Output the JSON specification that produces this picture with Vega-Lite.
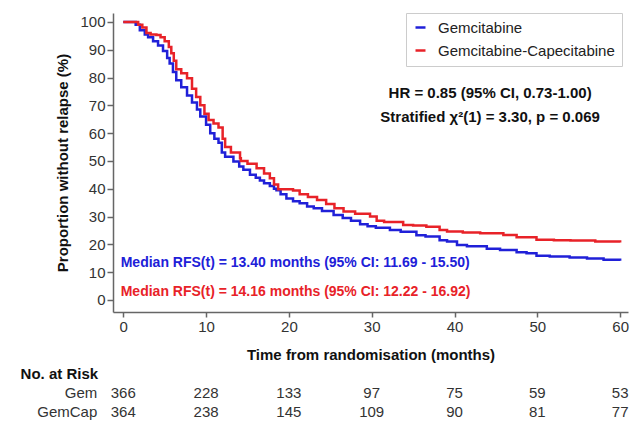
{
  "$schema": "https://vega.github.io/schema/vega-lite/v6.json",
  "width": 515,
  "height": 299,
  "autosize": {"type": "none"},
  "padding": {"left": 113, "top": 13, "right": 12, "bottom": 115},
  "background": "white",
  "config": {
    "view": {"stroke": null},
    "font": "Liberation Sans",
    "axis": {"grid": false, "domainColor": "#666666", "domainWidth": 1.5, "tickColor": "#666666", "tickWidth": 1.5, "tickSize": 6, "labelFontSize": 15, "labelColor": "#333333", "labelFont": "Liberation Sans", "titleFont": "Liberation Sans", "titleFontSize": 15, "titleFontWeight": "bold", "titleColor": "#111111"}
  },
  "resolve": {"axis": {"x": "independent", "y": "independent"}},
  "datasets": {
    "curves": [
      {"t": 0, "v": 100, "arm": "Gemcitabine"}, {"t": 1.0, "v": 100, "arm": "Gemcitabine"}, {"t": 1.5, "v": 99, "arm": "Gemcitabine"}, {"t": 2.0, "v": 97, "arm": "Gemcitabine"}, {"t": 2.6, "v": 95.5, "arm": "Gemcitabine"}, {"t": 3.0, "v": 94.5, "arm": "Gemcitabine"}, {"t": 3.6, "v": 93, "arm": "Gemcitabine"}, {"t": 4.2, "v": 91.5, "arm": "Gemcitabine"}, {"t": 4.8, "v": 89.5, "arm": "Gemcitabine"}, {"t": 5.3, "v": 87, "arm": "Gemcitabine"}, {"t": 5.6, "v": 85, "arm": "Gemcitabine"}, {"t": 6.0, "v": 82, "arm": "Gemcitabine"}, {"t": 6.4, "v": 79, "arm": "Gemcitabine"}, {"t": 7.0, "v": 76.5, "arm": "Gemcitabine"}, {"t": 7.7, "v": 73.5, "arm": "Gemcitabine"}, {"t": 8.3, "v": 71, "arm": "Gemcitabine"}, {"t": 8.9, "v": 68.5, "arm": "Gemcitabine"}, {"t": 9.3, "v": 66, "arm": "Gemcitabine"}, {"t": 10.0, "v": 63, "arm": "Gemcitabine"}, {"t": 10.5, "v": 60, "arm": "Gemcitabine"}, {"t": 11.0, "v": 58, "arm": "Gemcitabine"}, {"t": 11.5, "v": 56.5, "arm": "Gemcitabine"}, {"t": 11.9, "v": 53, "arm": "Gemcitabine"}, {"t": 12.3, "v": 51.5, "arm": "Gemcitabine"}, {"t": 13.3, "v": 49.8, "arm": "Gemcitabine"}, {"t": 14.0, "v": 48, "arm": "Gemcitabine"}, {"t": 14.5, "v": 46.8, "arm": "Gemcitabine"}, {"t": 15.3, "v": 45, "arm": "Gemcitabine"}, {"t": 16.0, "v": 44, "arm": "Gemcitabine"}, {"t": 16.5, "v": 43, "arm": "Gemcitabine"}, {"t": 17.0, "v": 42, "arm": "Gemcitabine"}, {"t": 17.7, "v": 41, "arm": "Gemcitabine"}, {"t": 18.2, "v": 40, "arm": "Gemcitabine"}, {"t": 18.5, "v": 39.5, "arm": "Gemcitabine"}, {"t": 19.0, "v": 38, "arm": "Gemcitabine"}, {"t": 19.7, "v": 36.5, "arm": "Gemcitabine"}, {"t": 20.5, "v": 35.5, "arm": "Gemcitabine"}, {"t": 21.3, "v": 34.8, "arm": "Gemcitabine"}, {"t": 22.2, "v": 33.6, "arm": "Gemcitabine"}, {"t": 23.0, "v": 33, "arm": "Gemcitabine"}, {"t": 24.0, "v": 32, "arm": "Gemcitabine"}, {"t": 25.4, "v": 30.6, "arm": "Gemcitabine"}, {"t": 26.5, "v": 29.5, "arm": "Gemcitabine"}, {"t": 27.5, "v": 28.5, "arm": "Gemcitabine"}, {"t": 28.6, "v": 27.2, "arm": "Gemcitabine"}, {"t": 29.5, "v": 26.5, "arm": "Gemcitabine"}, {"t": 30.5, "v": 26, "arm": "Gemcitabine"}, {"t": 32.2, "v": 25.2, "arm": "Gemcitabine"}, {"t": 33.5, "v": 24.5, "arm": "Gemcitabine"}, {"t": 35.4, "v": 23.3, "arm": "Gemcitabine"}, {"t": 36.5, "v": 22.8, "arm": "Gemcitabine"}, {"t": 38.2, "v": 21.5, "arm": "Gemcitabine"}, {"t": 39.1, "v": 21, "arm": "Gemcitabine"}, {"t": 40.3, "v": 19.8, "arm": "Gemcitabine"}, {"t": 41.5, "v": 19.3, "arm": "Gemcitabine"}, {"t": 43.9, "v": 18.4, "arm": "Gemcitabine"}, {"t": 45.5, "v": 18, "arm": "Gemcitabine"}, {"t": 47.5, "v": 17.2, "arm": "Gemcitabine"}, {"t": 48.7, "v": 16.8, "arm": "Gemcitabine"}, {"t": 49.9, "v": 15.9, "arm": "Gemcitabine"}, {"t": 51.5, "v": 15.6, "arm": "Gemcitabine"}, {"t": 53.9, "v": 15.3, "arm": "Gemcitabine"}, {"t": 56, "v": 14.9, "arm": "Gemcitabine"}, {"t": 58, "v": 14.5, "arm": "Gemcitabine"}, {"t": 60, "v": 14.1, "arm": "Gemcitabine"},
      {"t": 0, "v": 100, "arm": "Gemcitabine-Capecitabine"}, {"t": 1.2, "v": 100, "arm": "Gemcitabine-Capecitabine"}, {"t": 1.8, "v": 99, "arm": "Gemcitabine-Capecitabine"}, {"t": 2.3, "v": 98, "arm": "Gemcitabine-Capecitabine"}, {"t": 2.8, "v": 96, "arm": "Gemcitabine-Capecitabine"}, {"t": 3.3, "v": 95.5, "arm": "Gemcitabine-Capecitabine"}, {"t": 4.0, "v": 95.3, "arm": "Gemcitabine-Capecitabine"}, {"t": 4.5, "v": 94.5, "arm": "Gemcitabine-Capecitabine"}, {"t": 5.0, "v": 93, "arm": "Gemcitabine-Capecitabine"}, {"t": 5.5, "v": 91, "arm": "Gemcitabine-Capecitabine"}, {"t": 5.8, "v": 88.7, "arm": "Gemcitabine-Capecitabine"}, {"t": 6.1, "v": 86, "arm": "Gemcitabine-Capecitabine"}, {"t": 6.4, "v": 83, "arm": "Gemcitabine-Capecitabine"}, {"t": 7.0, "v": 81.5, "arm": "Gemcitabine-Capecitabine"}, {"t": 7.7, "v": 79.7, "arm": "Gemcitabine-Capecitabine"}, {"t": 8.3, "v": 76, "arm": "Gemcitabine-Capecitabine"}, {"t": 8.8, "v": 73, "arm": "Gemcitabine-Capecitabine"}, {"t": 9.3, "v": 70, "arm": "Gemcitabine-Capecitabine"}, {"t": 9.8, "v": 67, "arm": "Gemcitabine-Capecitabine"}, {"t": 10.3, "v": 64.7, "arm": "Gemcitabine-Capecitabine"}, {"t": 10.9, "v": 63.5, "arm": "Gemcitabine-Capecitabine"}, {"t": 11.5, "v": 62, "arm": "Gemcitabine-Capecitabine"}, {"t": 12.0, "v": 58, "arm": "Gemcitabine-Capecitabine"}, {"t": 12.3, "v": 55, "arm": "Gemcitabine-Capecitabine"}, {"t": 13.0, "v": 53, "arm": "Gemcitabine-Capecitabine"}, {"t": 14.1, "v": 51, "arm": "Gemcitabine-Capecitabine"}, {"t": 14.2, "v": 50, "arm": "Gemcitabine-Capecitabine"}, {"t": 15.0, "v": 49, "arm": "Gemcitabine-Capecitabine"}, {"t": 16.1, "v": 47.4, "arm": "Gemcitabine-Capecitabine"}, {"t": 17.0, "v": 45.5, "arm": "Gemcitabine-Capecitabine"}, {"t": 17.7, "v": 43.8, "arm": "Gemcitabine-Capecitabine"}, {"t": 18.2, "v": 41.5, "arm": "Gemcitabine-Capecitabine"}, {"t": 18.7, "v": 39.8, "arm": "Gemcitabine-Capecitabine"}, {"t": 20.5, "v": 39.4, "arm": "Gemcitabine-Capecitabine"}, {"t": 21.3, "v": 38, "arm": "Gemcitabine-Capecitabine"}, {"t": 22.3, "v": 37, "arm": "Gemcitabine-Capecitabine"}, {"t": 23.4, "v": 36, "arm": "Gemcitabine-Capecitabine"}, {"t": 24.5, "v": 34.5, "arm": "Gemcitabine-Capecitabine"}, {"t": 25.5, "v": 33, "arm": "Gemcitabine-Capecitabine"}, {"t": 26.6, "v": 31.8, "arm": "Gemcitabine-Capecitabine"}, {"t": 28.0, "v": 31, "arm": "Gemcitabine-Capecitabine"}, {"t": 29.8, "v": 30, "arm": "Gemcitabine-Capecitabine"}, {"t": 30.6, "v": 28.5, "arm": "Gemcitabine-Capecitabine"}, {"t": 31.5, "v": 28, "arm": "Gemcitabine-Capecitabine"}, {"t": 33.8, "v": 27, "arm": "Gemcitabine-Capecitabine"}, {"t": 35.0, "v": 26.8, "arm": "Gemcitabine-Capecitabine"}, {"t": 36.6, "v": 26.3, "arm": "Gemcitabine-Capecitabine"}, {"t": 38.2, "v": 25.2, "arm": "Gemcitabine-Capecitabine"}, {"t": 39.1, "v": 24.6, "arm": "Gemcitabine-Capecitabine"}, {"t": 41.0, "v": 24.3, "arm": "Gemcitabine-Capecitabine"}, {"t": 43.1, "v": 24, "arm": "Gemcitabine-Capecitabine"}, {"t": 45.9, "v": 23.4, "arm": "Gemcitabine-Capecitabine"}, {"t": 47.5, "v": 22.6, "arm": "Gemcitabine-Capecitabine"}, {"t": 49.9, "v": 21.7, "arm": "Gemcitabine-Capecitabine"}, {"t": 52, "v": 21.5, "arm": "Gemcitabine-Capecitabine"}, {"t": 54, "v": 21.4, "arm": "Gemcitabine-Capecitabine"}, {"t": 57, "v": 21, "arm": "Gemcitabine-Capecitabine"}, {"t": 60, "v": 20.7, "arm": "Gemcitabine-Capecitabine"}
    ],
    "risk": [
      {"t": 0, "gem": 366, "gemcap": 364}, {"t": 10, "gem": 228, "gemcap": 238}, {"t": 20, "gem": 133, "gemcap": 145}, {"t": 30, "gem": 97, "gemcap": 109}, {"t": 40, "gem": 75, "gemcap": 90}, {"t": 50, "gem": 59, "gemcap": 81}, {"t": 60, "gem": 53, "gemcap": 77}
    ]
  },
  "layer": [
    {
      "data": {"name": "curves"},
      "mark": {"type": "line", "interpolate": "step-after", "strokeWidth": 2.5},
      "encoding": {
        "x": {"field": "t", "type": "quantitative", "scale": {"domain": [-1.24, 60.95], "nice": false, "zero": false}, "axis": {"values": [0, 10, 20, 30, 40, 50, 60], "title": "Time from randomisation (months)", "tickSize": 5, "labelPadding": 2, "titlePadding": 13}},
        "y": {"field": "v", "type": "quantitative", "scale": {"domain": [-4.32, 103.2], "nice": false, "zero": false}, "axis": {"values": [0, 10, 20, 30, 40, 50, 60, 70, 80, 90, 100], "title": "Proportion without relapse (%)", "labelPadding": 2, "titlePadding": 9}},
        "color": {"field": "arm", "type": "nominal", "scale": {"domain": ["Gemcitabine", "Gemcitabine-Capecitabine"], "range": ["#2020d8", "#e82228"]},
          "legend": {"title": null, "orient": "none", "legendX": 293, "legendY": 0, "symbolType": "stroke", "symbolStrokeWidth": 2.5, "symbolSize": 100, "labelFontSize": 15, "labelColor": "#222222", "labelFont": "Liberation Sans", "labelLimit": 400, "labelOffset": 10, "rowPadding": 7, "padding": 7, "strokeColor": "#cccccc", "fillColor": "white"}}
      }
    },
    {
      "data": {"values": [{"line": "HR = 0.85 (95% CI, 0.73-1.00)"}]},
      "mark": {"type": "text", "fontSize": 15, "fontWeight": "bold", "color": "#111111", "align": "center", "baseline": "middle", "clip": false},
      "encoding": {
        "x": {"datum": 44.3, "type": "quantitative", "scale": {"domain": [-1.24, 60.95], "nice": false, "zero": false}, "axis": null},
        "y": {"datum": 74.5, "type": "quantitative", "scale": {"domain": [-4.32, 103.2], "nice": false, "zero": false}, "axis": null},
        "text": {"field": "line"}
      }
    },
    {
      "data": {"values": [{"line": "Stratified χ²(1) = 3.30, p = 0.069"}]},
      "mark": {"type": "text", "fontSize": 15, "fontWeight": "bold", "color": "#111111", "align": "center", "baseline": "middle", "clip": false},
      "encoding": {
        "x": {"datum": 44.3, "type": "quantitative", "scale": {"domain": [-1.24, 60.95], "nice": false, "zero": false}, "axis": null},
        "y": {"datum": 65.8, "type": "quantitative", "scale": {"domain": [-4.32, 103.2], "nice": false, "zero": false}, "axis": null},
        "text": {"field": "line"}
      }
    },
    {
      "data": {"values": [{"line": "Median RFS(t) = 13.40 months (95% CI: 11.69 - 15.50)"}]},
      "mark": {"type": "text", "fontSize": 14, "fontWeight": "bold", "color": "#2020d8", "align": "left", "baseline": "middle", "clip": false},
      "encoding": {
        "x": {"datum": -0.31, "type": "quantitative", "scale": {"domain": [-1.24, 60.95], "nice": false, "zero": false}, "axis": null},
        "y": {"datum": 13.2, "type": "quantitative", "scale": {"domain": [-4.32, 103.2], "nice": false, "zero": false}, "axis": null},
        "text": {"field": "line"}
      }
    },
    {
      "data": {"values": [{"line": "Median RFS(t) = 14.16 months (95% CI: 12.22 - 16.92)"}]},
      "mark": {"type": "text", "fontSize": 14, "fontWeight": "bold", "color": "#e82228", "align": "left", "baseline": "middle", "clip": false},
      "encoding": {
        "x": {"datum": -0.31, "type": "quantitative", "scale": {"domain": [-1.24, 60.95], "nice": false, "zero": false}, "axis": null},
        "y": {"datum": 3.0, "type": "quantitative", "scale": {"domain": [-4.32, 103.2], "nice": false, "zero": false}, "axis": null},
        "text": {"field": "line"}
      }
    },
    {
      "data": {"values": [{"line": "No. at Risk"}]},
      "mark": {"type": "text", "fontSize": 15, "fontWeight": "bold", "color": "#111111", "align": "left", "baseline": "middle", "clip": false},
      "encoding": {
        "x": {"datum": -12.4, "type": "quantitative", "scale": {"domain": [-1.24, 60.95], "nice": false, "zero": false}, "axis": null},
        "y": {"datum": -26.6, "type": "quantitative", "scale": {"domain": [-4.32, 103.2], "nice": false, "zero": false}, "axis": null},
        "text": {"field": "line"}
      }
    },
    {
      "data": {"values": [{"line": "Gem", "row": -33.3}, {"line": "GemCap", "row": -40.2}]},
      "mark": {"type": "text", "fontSize": 15, "color": "#333333", "align": "right", "baseline": "middle", "clip": false},
      "encoding": {
        "x": {"datum": -3.14, "type": "quantitative", "scale": {"domain": [-1.24, 60.95], "nice": false, "zero": false}, "axis": null},
        "y": {"field": "row", "type": "quantitative", "scale": {"domain": [-4.32, 103.2], "nice": false, "zero": false}, "axis": null},
        "text": {"field": "line"}
      }
    },
    {
      "data": {"name": "risk"},
      "mark": {"type": "text", "fontSize": 15, "color": "#333333", "align": "center", "baseline": "middle", "clip": false},
      "encoding": {
        "x": {"field": "t", "type": "quantitative", "scale": {"domain": [-1.24, 60.95], "nice": false, "zero": false}, "axis": null},
        "y": {"datum": -33.3, "type": "quantitative", "scale": {"domain": [-4.32, 103.2], "nice": false, "zero": false}, "axis": null},
        "text": {"field": "gem"}
      }
    },
    {
      "data": {"name": "risk"},
      "mark": {"type": "text", "fontSize": 15, "color": "#333333", "align": "center", "baseline": "middle", "clip": false},
      "encoding": {
        "x": {"field": "t", "type": "quantitative", "scale": {"domain": [-1.24, 60.95], "nice": false, "zero": false}, "axis": null},
        "y": {"datum": -40.2, "type": "quantitative", "scale": {"domain": [-4.32, 103.2], "nice": false, "zero": false}, "axis": null},
        "text": {"field": "gemcap"}
      }
    }
  ]
}
